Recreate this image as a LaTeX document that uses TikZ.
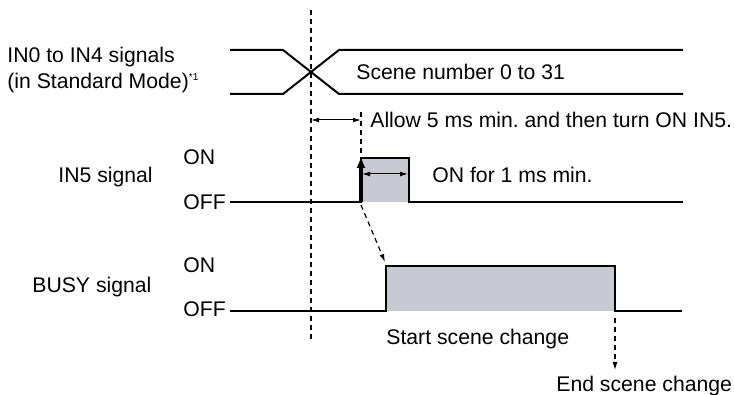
\documentclass[tikz,border=0pt]{standalone}
\usepackage{fontspec}
\setmainfont{Liberation Sans}
\usepackage{xcolor}
\usepackage{tikz}
\usetikzlibrary{arrows.meta, positioning, calc}

\definecolor{pulsegray}{HTML}{C8CAD2}
\frenchspacing

\begin{document}
\begin{tikzpicture}[
  x=0.5pt, y=0.5pt,
  >=Latex,
  sig/.style={draw=black, line width=1pt},
  guide/.style={draw=black, line width=0.6pt, dash pattern=on 2.5pt off 2pt},
  lbl/.style={anchor=base west, inner sep=0pt, font=\fontsize{10.6}{12.7}\selectfont},
  dimarrow/.style={{Latex[length=4pt,width=2.4pt]}-{Latex[length=4pt,width=2.4pt]}, line width=0.5pt},
  dasharrow/.style={-{Latex[length=4pt,width=2.5pt]}, line width=0.6pt, dash pattern=on 2.5pt off 2pt}
]
  \useasboundingbox (0,0) rectangle (734,395);

  % signal names
  \node[lbl] (inA) at (7,332.5) {IN0 to IN4 signals};
  \node[lbl] (inB) at (7,306.5) {(in Standard Mode)\textsuperscript{\tiny *1}};
  \node[lbl] (in5) at (58,212.5) {IN5 signal};
  \node[lbl] (on5) at (183,230.5) {ON};
  \node[lbl] (off5) at (183,185.5) {OFF};
  \node[lbl] (busy) at (32,102.5) {BUSY signal};
  \node[lbl] (onB) at (183,122.5) {ON};
  \node[lbl] (offB) at (183,78) {OFF};

  % key points
  \coordinate (x0) at (311,275);
  \coordinate (x1) at (361,275);
  \coordinate (p0) at (362,221);
  \coordinate (p1) at (408,221);
  \coordinate (r5) at (361,190);
  \coordinate (rb) at (385,133);
  \coordinate (fb) at (615,77);
  \coordinate (fbEnd) at (615,25);

  % IN0 to IN4
  \draw[sig] (230,345) -- (283,345) -- (339,301) -- (683,301);
  \draw[sig] (230,301) -- (283,301) -- (339,345) -- (683,345);
  \node[lbl] (scene) at (356,315.5) {Scene number 0 to 31};

  % IN5
  \fill[pulsegray] (361,193) rectangle (409,237);
  \draw[sig] (230,193) -- (361,193) -- (361,237) -- (409,237) -- (409,193) -- (683,193);
  \draw[line width=2pt, -{Latex[length=6pt,width=4.5pt]}] (361,193) -- (361,239);

  % BUSY
  \fill[pulsegray] (386,84) rectangle (615,129);
  \draw[sig] (230,84) -- (386,84) -- (386,129) -- (615,129) -- (615,84) -- (682,84);

  % timing guides
  \draw[guide] (311,385) -- (311,53);
  \draw[guide] (361,283) -- (361,241);
  \draw[dimarrow] (x0) -- (x1);
  \node[lbl] (allow) at (370,267.5) {Allow 5 ms min. and then turn ON IN5.};
  \draw[dimarrow] (p0) -- (p1);
  \node[lbl] (onfor) at (432,212.5) {ON for 1 ms min.};

  \draw[dasharrow] (r5) -- (rb);
  \node[lbl] (start) at (386,50.5) {Start scene change};
  \draw[dasharrow] (fb) -- (fbEnd);
  \node[lbl] (stop) at (556,3.5) {End scene change};
\end{tikzpicture}
\end{document}
